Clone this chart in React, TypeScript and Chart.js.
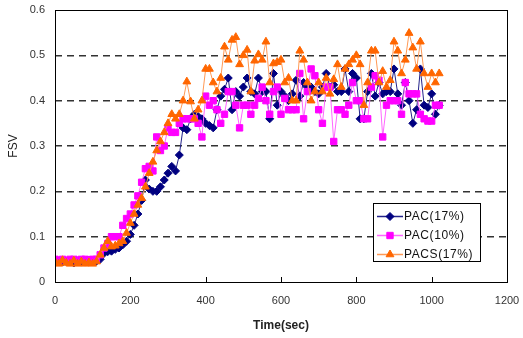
import React, { useEffect, useRef } from "react";
import { Chart, registerables } from "chart.js";
import { drawPoint } from "chart.js/helpers";
Chart.register(...registerables);

const times = [
  0, 10, 20, 30, 40, 50, 60, 70, 80, 90, 100, 110, 120, 130, 140, 150, 160, 170, 180, 190,
  200, 210, 220, 230, 240, 250, 260, 270, 280, 290, 300, 310, 320, 330, 340, 350, 360, 370, 380, 390,
  400, 410, 420, 430, 440, 450, 460, 470, 480, 490, 500, 510, 520, 530, 540, 550, 560, 570, 580, 590,
  600, 610, 620, 630, 640, 650, 660, 670, 680, 690, 700, 710, 720, 730, 740, 750, 760, 770, 780, 790,
  800, 810, 820, 830, 840, 850, 860, 870, 880, 890, 900, 910, 920, 930, 940, 950, 960, 970, 980, 990,
  1000, 1010, 1020,
];

const pac17 = [
  0.045, 0.045, 0.044, 0.045, 0.046, 0.042, 0.045, 0.045, 0.044, 0.045, 0.045, 0.046, 0.05, 0.063, 0.067, 0.068, 0.072, 0.075, 0.082, 0.09,
  0.105, 0.125, 0.15, 0.18, 0.225, 0.205, 0.2, 0.2, 0.21, 0.225, 0.24, 0.255, 0.245, 0.28, 0.34, 0.336, 0.36, 0.37, 0.365, 0.36,
  0.35, 0.345, 0.34, 0.38, 0.41, 0.425, 0.45, 0.38, 0.42, 0.41, 0.43, 0.45, 0.42, 0.415, 0.45, 0.42, 0.42, 0.36, 0.46, 0.39,
  0.42, 0.41, 0.4, 0.415, 0.445, 0.41, 0.44, 0.43, 0.43, 0.42, 0.415, 0.43, 0.46, 0.43, 0.435, 0.42, 0.42, 0.47, 0.42, 0.46,
  0.45, 0.36, 0.36, 0.42, 0.46, 0.41, 0.44, 0.415, 0.42, 0.42, 0.47, 0.415, 0.39, 0.44, 0.4, 0.35, 0.38, 0.47, 0.39, 0.385,
  0.415, 0.37, 0.39,
];

const pac10 = [
  0.05, 0.048, 0.05, 0.047, 0.05, 0.05, 0.048, 0.05, 0.05, 0.049, 0.05, 0.05, 0.06, 0.075, 0.085, 0.1, 0.1, 0.1, 0.125, 0.14,
  0.15, 0.17, 0.19, 0.22, 0.25, 0.255, 0.245, 0.32, 0.29, 0.3, 0.34, 0.33, 0.33, 0.35, 0.36, 0.36, 0.36, 0.36, 0.35, 0.32,
  0.41, 0.39, 0.4, 0.38, 0.35, 0.37, 0.42, 0.42, 0.39, 0.34, 0.39, 0.39, 0.37, 0.39, 0.405, 0.43, 0.4, 0.37, 0.42, 0.43,
  0.37, 0.405, 0.38, 0.38, 0.38, 0.46, 0.36, 0.42, 0.47, 0.455, 0.38, 0.35, 0.43, 0.43, 0.31, 0.38, 0.38, 0.37, 0.39, 0.44,
  0.4, 0.4, 0.36, 0.36, 0.43, 0.455, 0.445, 0.32, 0.39, 0.4, 0.4, 0.4, 0.37, 0.44, 0.415, 0.415, 0.415, 0.37, 0.36, 0.355,
  0.355, 0.39, 0.39,
];

const pacs17 = [
  0.045, 0.04, 0.048, 0.042, 0.04, 0.047, 0.04, 0.045, 0.04, 0.043, 0.04, 0.045, 0.06, 0.075, 0.09, 0.078, 0.08, 0.085, 0.09, 0.108,
  0.13, 0.15, 0.17, 0.185, 0.21, 0.24, 0.265, 0.29, 0.31, 0.33, 0.35, 0.37, 0.36, 0.37, 0.4, 0.442, 0.398, 0.36, 0.38, 0.4,
  0.47, 0.47, 0.44, 0.42, 0.45, 0.519, 0.49, 0.534, 0.54, 0.48, 0.5, 0.512, 0.42, 0.488, 0.502, 0.49, 0.53, 0.44, 0.482, 0.485,
  0.49, 0.44, 0.45, 0.4, 0.4, 0.51, 0.49, 0.44, 0.4, 0.42, 0.44, 0.42, 0.45, 0.415, 0.447, 0.48, 0.43, 0.47, 0.48, 0.49,
  0.5, 0.48, 0.39, 0.44, 0.51, 0.51, 0.44, 0.465, 0.43, 0.445, 0.53, 0.51, 0.46, 0.49, 0.549, 0.517, 0.47, 0.53, 0.46, 0.43,
  0.46, 0.44, 0.46,
];

const seriesLabels = ["PAC(17%)", "PAC(10%)", "PACS(17%)"];
const xTitle = "Time(sec)";
const yTitle = "FSV";

const FONT = "'Liberation Sans', Arial, sans-serif";

export default function App() {
  const ref = useRef<HTMLCanvasElement>(null);

  useEffect(() => {
    document.body.style.margin = "0";
    const canvas = ref.current;
    if (!canvas) return;

    const toPts = (vals: number[]) => times.map((t, i) => ({ x: t, y: vals[i] }));

    const styles = [
      { line: "#23238a", point: "#000080", pointStyle: "rectRot", radius: 4 },
      { line: "#ff66ff", point: "#ff00ff", pointStyle: "rect", radius: 4.5 },
      { line: "#ff9955", point: "#ff6600", pointStyle: "triangle", radius: 4.5 },
    ];

    const framePlugin = {
      id: "framePlugin",
      afterDatasetsDraw(chart: any) {
        const { ctx, chartArea } = chart;
        const { left, right, top, bottom } = chartArea;
        ctx.save();
        ctx.strokeStyle = "#000";
        ctx.lineWidth = 1;
        ctx.setLineDash([]);
        ctx.strokeRect(Math.round(left) + 0.5, Math.round(top) + 0.5, Math.round(right - left), Math.round(bottom - top));
        const xs = chart.scales.x;
        xs.ticks.forEach((tk: any) => {
          const px = Math.round(xs.getPixelForValue(tk.value)) + 0.5;
          ctx.beginPath();
          ctx.moveTo(px, bottom);
          ctx.lineTo(px, bottom - 5);
          ctx.stroke();
        });
        const bx = 373, by = 203, bw = 107, bh = 58;
        ctx.fillStyle = "#fff";
        ctx.fillRect(bx, by, bw, bh);
        ctx.strokeRect(bx + 0.5, by + 0.5, bw, bh);
        const rows = [216, 235, 254];
        chart.data.datasets.forEach((ds: any, i: number) => {
          const y = rows[i];
          ctx.strokeStyle = ds.borderColor;
          ctx.lineWidth = 1.5;
          ctx.beginPath();
          ctx.moveTo(377, y + 0.5);
          ctx.lineTo(403, y + 0.5);
          ctx.stroke();
          ctx.fillStyle = ds.pointBackgroundColor;
          ctx.strokeStyle = ds.pointBorderColor;
          ctx.lineWidth = 1;
          drawPoint(ctx, { pointStyle: ds.pointStyle, radius: ds.pointRadius, rotation: 0, borderWidth: 1 }, 390, y + 0.5);
          ctx.fillStyle = "#111";
          ctx.font = `12px ${FONT}`;
          (ctx as any).letterSpacing = "0.6px";
          ctx.textBaseline = "middle";
          ctx.textAlign = "left";
          ctx.fillText(ds.label, 404, y + 1);
          (ctx as any).letterSpacing = "0px";
        });
        ctx.restore();
      },
    };

    const datasets = [pac17, pac10, pacs17].map((vals, i) => ({
      label: seriesLabels[i],
      data: toPts(vals),
      borderColor: styles[i].line,
      borderWidth: 1,
      pointStyle: styles[i].pointStyle,
      pointRadius: styles[i].radius,
      pointBackgroundColor: styles[i].point,
      pointBorderColor: styles[i].point,
      pointBorderWidth: 1,
      tension: 0,
      order: 3 - i,
    }));

    const chart = new Chart(canvas, {
      type: "line",
      data: { datasets },
      plugins: [framePlugin],
      options: {
        responsive: false,
        animation: false,
        layout: { padding: { top: 10, right: 16, left: 0, bottom: 0 } },
        plugins: { legend: { display: false }, tooltip: { enabled: false } },
        scales: {
          x: {
            type: "linear",
            min: 0,
            max: 1200,
            ticks: {
              stepSize: 200,
              color: "#333",
              font: { family: FONT, size: 11 },
              padding: 12,
              maxRotation: 0,
              callback: (v: any) => String(v),
            },
            grid: { display: false, drawTicks: false },
            border: { display: false },
            title: { display: true, text: xTitle, color: "#222", font: { family: FONT, size: 12, weight: "bold" }, padding: { top: 0, bottom: 5 } },
            afterFit: (s: any) => { s.height = 56; s.paddingLeft = 0; s.paddingRight = 0; },
          },
          y: {
            min: 0,
            max: 0.6,
            ticks: { stepSize: 0.1, color: "#333", font: { family: FONT, size: 11 }, padding: 10 },
            grid: {
              drawTicks: false,
              lineWidth: 1.5,
              color: (c: any) => (c.tick && (c.tick.value <= 0.001 || c.tick.value >= 0.599) ? "rgba(0,0,0,0)" : "#333"),
            },
            border: { display: false, dash: [7, 5] },
            title: { display: true, text: yTitle, color: "#222", font: { family: FONT, size: 12 }, padding: { top: 6, bottom: 0 } },
            afterFit: (s: any) => { s.width = 55; s.paddingTop = 0; s.paddingBottom = 0; },
          },
        },
      },
    } as any);

    return () => chart.destroy();
  }, []);

  return (
    <div style={{ width: 523, height: 338, position: "relative" }}>
      <canvas ref={ref} width={523} height={338} />
    </div>
  );
}
